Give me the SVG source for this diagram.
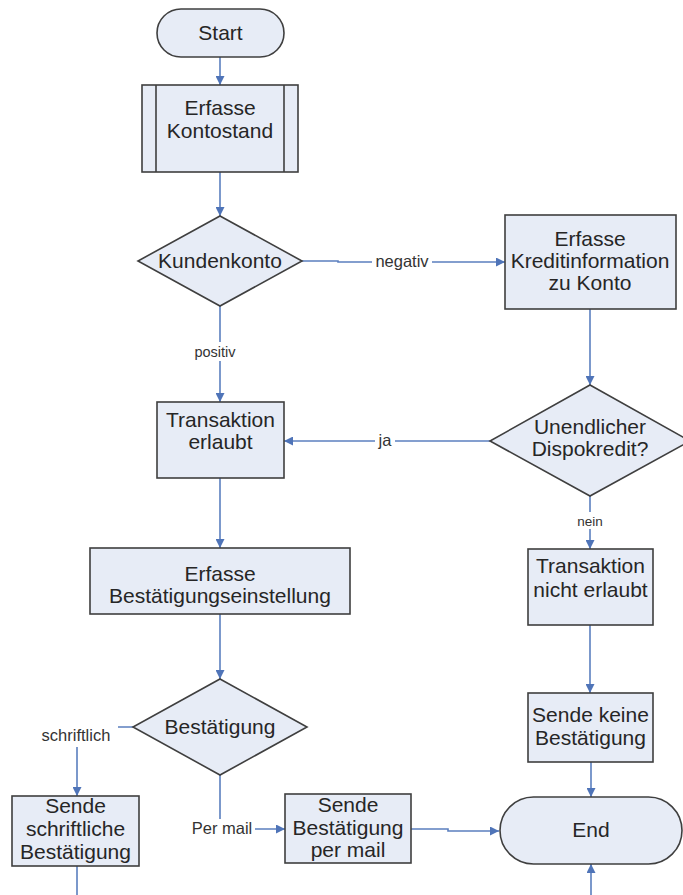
<svg xmlns="http://www.w3.org/2000/svg" width="683" height="895" viewBox="0 0 683 895">
  <style>
    .shape { fill: #E7ECF6; stroke: #3F3F3F; stroke-width: 1.6; }
    .inner { fill: none; stroke: #3F3F3F; stroke-width: 1.6; }
    .node-text { font-family: "Liberation Sans", Arial, sans-serif; font-size: 21px; fill: #262626; text-anchor: middle; }
    .edge { fill: none; stroke: #5B7FBF; stroke-width: 1.6; }
    .label-bg { fill: #FFFFFF; }
    .label { font-family: "Liberation Sans", Arial, sans-serif; fill: #333333; text-anchor: middle; }
  </style>
  <defs>
    <marker id="arrow" viewBox="0 0 10 10" refX="10" refY="5" markerWidth="9" markerHeight="9" markerUnits="userSpaceOnUse" orient="auto">
      <path d="M0,0 L10,5 L0,10 z" fill="#4F74B8"/>
    </marker>
  </defs>
  <rect width="683" height="895" fill="#FFFFFF"/>

  <!-- connectors -->
  <g id="connectors">
    <path class="edge" d="M220,57 V85" marker-end="url(#arrow)"/>
    <path class="edge" d="M220,172 V216" marker-end="url(#arrow)"/>
    <path class="edge" d="M302,261 H338 V262 H505" marker-end="url(#arrow)"/>
    <path class="edge" d="M220,306 V402" marker-end="url(#arrow)"/>
    <path class="edge" d="M590,309 V385" marker-end="url(#arrow)"/>
    <path class="edge" d="M490,441 H284" marker-end="url(#arrow)"/>
    <path class="edge" d="M590,496 V549" marker-end="url(#arrow)"/>
    <path class="edge" d="M220,478 V548" marker-end="url(#arrow)"/>
    <path class="edge" d="M220,614 V679" marker-end="url(#arrow)"/>
    <path class="edge" d="M133,727 H77 V796" marker-end="url(#arrow)"/>
    <path class="edge" d="M220,775 V829 H285" marker-end="url(#arrow)"/>
    <path class="edge" d="M590,625 V693" marker-end="url(#arrow)"/>
    <path class="edge" d="M591,762 V797" marker-end="url(#arrow)"/>
    <path class="edge" d="M411,829 H448 V831 H499" marker-end="url(#arrow)"/>
    <!-- routed below the lower edge back up into End -->
    <path class="edge" d="M77,866 V910 H591 V864" marker-end="url(#arrow)"/>

    <!-- edge labels -->
    <rect class="label-bg" x="372" y="252" width="60" height="20"/>
    <text class="label" x="402" y="267" font-size="16.5">negativ</text>
    <rect class="label-bg" x="192" y="342" width="46" height="19"/>
    <text class="label" x="215" y="357" font-size="14.5">positiv</text>
    <rect class="label-bg" x="375" y="432" width="20" height="20"/>
    <text class="label" x="385" y="446" font-size="16.5">ja</text>
    <rect class="label-bg" x="574" y="512" width="32" height="17"/>
    <text class="label" x="590" y="526" font-size="13.5">nein</text>
    <rect class="label-bg" x="36" y="725" width="82" height="22"/>
    <text class="label" x="76" y="741" font-size="16.5">schriftlich</text>
    <rect class="label-bg" x="188" y="819" width="67" height="21"/>
    <text class="label" x="222" y="834" font-size="16.5">Per mail</text>
  </g>

  <g id="start">
    <rect class="shape" x="157" y="9" width="127" height="48" rx="24" ry="24"/>
    <text class="node-text" x="220.5" y="40">Start</text>
  </g>

  <g id="erfasse-kontostand">
    <rect class="shape" x="142" y="85" width="156" height="87"/>
    <line class="inner" x1="156" y1="85" x2="156" y2="172"/>
    <line class="inner" x1="284" y1="85" x2="284" y2="172"/>
    <text class="node-text" x="220" y="115">Erfasse</text>
    <text class="node-text" x="220" y="138">Kontostand</text>
  </g>

  <g id="kundenkonto">
    <polygon class="shape" points="220,216 302,261 220,306 138,261"/>
    <text class="node-text" x="220" y="268">Kundenkonto</text>
  </g>

  <g id="erfasse-kreditinformation">
    <rect class="shape" x="505" y="215" width="171" height="94"/>
    <text class="node-text" x="590" y="246">Erfasse</text>
    <text class="node-text" x="590" y="268">Kreditinformation</text>
    <text class="node-text" x="590" y="290">zu Konto</text>
  </g>

  <g id="unendlicher-dispokredit">
    <polygon class="shape" points="590,385 690,441 590,496 490,441"/>
    <text class="node-text" x="590" y="434">Unendlicher</text>
    <text class="node-text" x="590" y="456">Dispokredit?</text>
  </g>

  <g id="transaktion-erlaubt">
    <rect class="shape" x="157" y="402" width="127" height="76"/>
    <text class="node-text" x="220.5" y="427">Transaktion</text>
    <text class="node-text" x="220.5" y="449">erlaubt</text>
  </g>

  <g id="transaktion-nicht-erlaubt">
    <rect class="shape" x="528" y="549" width="125" height="76"/>
    <text class="node-text" x="590.5" y="573">Transaktion</text>
    <text class="node-text" x="590.5" y="597">nicht erlaubt</text>
  </g>

  <g id="erfasse-bestaetigungseinstellung">
    <rect class="shape" x="90" y="548" width="260" height="66"/>
    <text class="node-text" x="220" y="581">Erfasse</text>
    <text class="node-text" x="220" y="603">Bestätigungseinstellung</text>
  </g>

  <g id="bestaetigung">
    <polygon class="shape" points="220,679 307,727 220,775 133,727"/>
    <text class="node-text" x="220" y="734">Bestätigung</text>
  </g>

  <g id="sende-keine-bestaetigung">
    <rect class="shape" x="528" y="693" width="125" height="69"/>
    <text class="node-text" x="590.5" y="722">Sende keine</text>
    <text class="node-text" x="590.5" y="745">Bestätigung</text>
  </g>

  <g id="sende-schriftliche-bestaetigung">
    <rect class="shape" x="12" y="796" width="127" height="70"/>
    <text class="node-text" x="75.5" y="813">Sende</text>
    <text class="node-text" x="75.5" y="836">schriftliche</text>
    <text class="node-text" x="75.5" y="859">Bestätigung</text>
  </g>

  <g id="sende-bestaetigung-per-mail">
    <rect class="shape" x="285" y="794" width="126" height="69"/>
    <text class="node-text" x="348" y="812">Sende</text>
    <text class="node-text" x="348" y="835">Bestätigung</text>
    <text class="node-text" x="348" y="857">per mail</text>
  </g>

  <g id="end">
    <rect class="shape" x="500" y="797" width="182" height="67" rx="33.5" ry="33.5"/>
    <text class="node-text" x="591" y="837">End</text>
  </g>
</svg>
